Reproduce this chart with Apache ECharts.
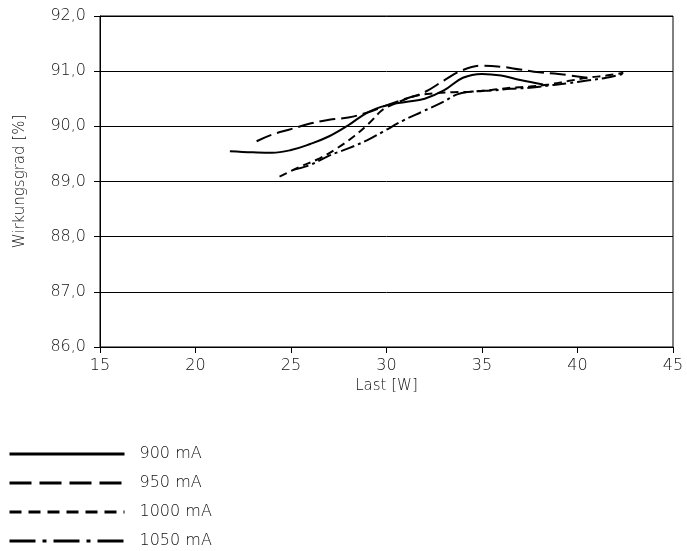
<!DOCTYPE html>
<html><head><meta charset="utf-8">
<script src="https://cdn.jsdelivr.net/npm/echarts@6/dist/echarts.min.js"></script>
<style>html,body{margin:0;padding:0;background:#fff}#c{width:687px;height:551px}</style>
</head><body><div id="c"></div>
<script>
const seriesNames = ['900 mA', '950 mA', '1000 mA', '1050 mA'];
const s900 = [[21.8,89.55],[23,89.53],[24,89.52],[25,89.57],[26,89.68],[27,89.82],[28,90.02],[29,90.25],[30,90.38],[31,90.44],[32,90.5],[33,90.65],[34,90.88],[35,90.95],[36,90.92],[37,90.84],[38.2,90.76]];
const s950 = [[23.2,89.73],[24,89.85],[25,89.95],[26,90.05],[27,90.12],[28,90.16],[29,90.25],[30,90.38],[31,90.5],[32,90.62],[33,90.83],[34,91.02],[35,91.1],[36,91.08],[37,91.03],[38,90.98],[39,90.95],[40.5,90.88]];
const s1000 = [[24.4,89.09],[25.5,89.27],[26.5,89.42],[27.4,89.6],[28.3,89.82],[29.1,90.06],[29.8,90.3],[30.5,90.42],[31.5,90.55],[32.5,90.6],[33.5,90.62],[34.5,90.63],[35.5,90.66],[36.5,90.7],[37.5,90.72],[38.5,90.76],[39.5,90.82],[40.5,90.88],[41.5,90.92],[42.4,90.97]];
const s1050 = [[25.2,89.22],[26,89.3],[27,89.47],[28,89.6],[29,89.75],[29.8,89.9],[30.9,90.11],[31.9,90.27],[33,90.45],[33.7,90.58],[34.5,90.63],[35.5,90.65],[36.5,90.68],[37.5,90.7],[38.5,90.74],[39.5,90.78],[40.5,90.83],[41.5,90.88],[42.4,90.95]];
const dashes = ['solid', [16,6], [8,5], [14,4,3,4]];
const legendDashes = ['solid', [22,8], [12,7], [26,7,4,7]];
const font = '"DejaVu Sans", sans-serif';
const fw = 200;
const txt = '#111';
const chart = echarts.init(document.getElementById('c'));
const data = [s900, s950, s1000, s1050];
chart.setOption({
  animation: false,
  grid: {left: 100, right: 14, top: 16, bottom: 204, show: true, borderColor: '#000', borderWidth: 1},
  legend: {
    orient: 'vertical', left: 3, top: 441, height: 110, itemWidth: 115, itemHeight: 14, itemGap: 13,
    itemStyle: {opacity: 0},
    textStyle: {fontFamily: font, fontWeight: fw, fontSize: 16, color: txt, padding: [0,0,0,10]},
    data: seriesNames.map((n, i) => ({name: n, lineStyle: {color: '#000', width: 3, type: legendDashes[i]}}))
  },
  xAxis: {
    type: 'value', min: 15, max: 45, interval: 5,
    name: 'Last [W]', nameLocation: 'middle', nameGap: 28,
    nameTextStyle: {fontFamily: font, fontWeight: fw, fontSize: 15, color: txt},
    axisLine: {lineStyle: {color: '#000'}},
    axisTick: {show: true, length: 6, lineStyle: {color: '#000'}},
    axisLabel: {fontFamily: font, fontWeight: fw, fontSize: 16, color: txt, margin: 11},
    splitLine: {show: false}
  },
  yAxis: {
    type: 'value', min: 86, max: 92, interval: 1,
    name: 'Wirkungsgrad [%]', nameLocation: 'middle', nameGap: 72,
    nameTextStyle: {fontFamily: font, fontWeight: fw, fontSize: 15, color: txt},
    axisLine: {show: true, lineStyle: {color: '#000'}},
    axisTick: {show: true, length: 6, lineStyle: {color: '#000'}},
    axisLabel: {fontFamily: font, fontWeight: fw, fontSize: 16, color: txt, margin: 14,
      formatter: v => v.toFixed(1).replace('.', ',')},
    splitLine: {show: true, lineStyle: {color: '#000', width: 1}}
  },
  series: data.map((d, i) => ({
    name: seriesNames[i], type: 'line', data: d, smooth: 0.4, showSymbol: false, symbol: 'none',
    lineStyle: {color: '#000', width: 2, type: dashes[i]},
    itemStyle: {color: '#000'}
  }))
});
</script></body></html>
